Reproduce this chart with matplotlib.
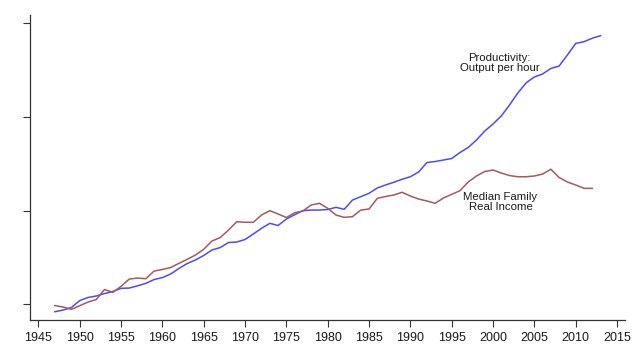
import matplotlib
matplotlib.use("Agg")

import numpy as np
import matplotlib.pyplot as plt

plt.rcParams["font.family"] = ["Liberation Sans", "DejaVu Sans"]

# index values (unlabelled y axis)
years_prod = list(range(1947, 2014))
productivity = [
    91.8, 93.6, 96.3, 103.7, 107.0, 108.6, 111.2, 113.4, 116.8, 117.1,
    119.5, 122.1, 126.2, 128.3, 132.1, 138.0, 143.3, 147.1, 151.9, 157.8,
    160.4, 165.8, 166.3, 169.0, 174.9, 181.0, 186.3, 184.0, 190.9, 195.5,
    199.8, 200.5, 200.5, 201.1, 203.4, 201.3, 211.2, 214.8, 218.4, 224.1,
    227.3, 230.2, 233.4, 236.1, 241.2, 251.3, 252.4, 254.0, 255.6, 262.0,
    267.4, 275.4, 285.0, 292.5, 301.1, 312.8, 325.7, 336.4, 342.8, 346.0,
    351.9, 354.5, 366.3, 378.6, 380.5, 384.2, 386.9,
]

years_inc = list(range(1947, 2013))
median_income = [
    98.4, 96.8, 94.3, 98.2, 102.1, 104.8, 115.5, 112.5, 118.9, 126.7,
    127.8, 127.1, 135.3, 136.9, 139.0, 143.5, 147.8, 152.4, 158.5, 167.4,
    171.1, 179.1, 188.0, 187.4, 187.4, 195.2, 199.8, 196.3, 192.5, 197.6,
    199.5, 205.9, 207.7, 202.4, 195.2, 192.7, 193.4, 200.5, 201.6, 213.0,
    215.0, 216.6, 219.5, 215.5, 212.3, 210.2, 207.7, 213.4, 217.3, 221.2,
    230.5, 236.9, 241.7, 243.3, 240.1, 237.4, 236.1, 236.1, 236.9, 239.0,
    244.1, 235.3, 230.5, 227.3, 223.7, 223.7,
]

x_ticks = list(range(1945, 2020, 5))
y_ticks = [100, 200, 300, 400]

fig = plt.figure(figsize=(6.4, 3.56), dpi=100)
ax = fig.add_axes([0.047, 0.101, 0.930, 0.857])

ax.plot(years_prod, productivity, color="#4a4aff", lw=1.1)
ax.plot(years_inc, median_income, color="#a35a5a", lw=1.1)

ax.set_xlim(1944, 2016)
ax.set_ylim(82.9, 409.1)
ax.set_xticks(x_ticks)
ax.set_yticks(y_ticks)
ax.set_yticklabels([])
ax.tick_params(axis="both", direction="out", length=5, width=0.8,
               color="#333333", labelsize=9, labelcolor="#1a1a1a")

for side in ["top", "right"]:
    ax.spines[side].set_visible(False)
for side in ["left", "bottom"]:
    ax.spines[side].set_color("#333333")
    ax.spines[side].set_linewidth(0.9)

ax.text(2000.8, 358, "Productivity:\nOutput per hour", ha="center", va="center",
        fontsize=8.2, color="#1a1a1a", linespacing=1.05)
ax.text(2000.9, 209, "Median Family\nReal Income", ha="center", va="center",
        fontsize=8.2, color="#1a1a1a", linespacing=1.05)

fig.savefig("out.png", dpi=100)
